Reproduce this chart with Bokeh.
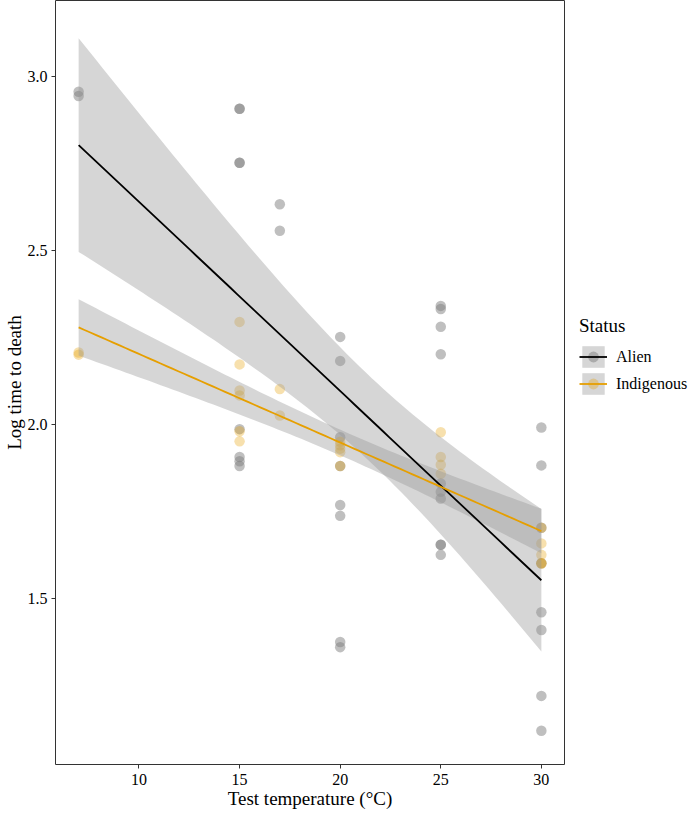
import numpy as np
from math import gamma, sqrt, pi
from bokeh.plotting import figure
from bokeh.layouts import row
from bokeh.models import (Range1d, Legend, LegendItem, FixedTicker, ColumnDataSource,
                          CustomJSTickFormatter)
from bokeh.embed import file_html
from bokeh.resources import INLINE

# ---------------- data ----------------
alien_temp = [7, 7,
              15, 15, 15, 15, 15, 15, 15, 15,
              17, 17,
              20, 20, 20, 20, 20, 20, 20, 20,
              25, 25, 25, 25, 25, 25, 25, 25, 25, 25,
              30, 30, 30, 30, 30, 30, 30, 30]
alien_ltd = [2.955, 2.943,
             2.906, 2.906, 2.751, 2.751, 1.986, 1.906, 1.894, 1.880,
             2.632, 2.556,
             2.251, 2.182, 1.963, 1.880, 1.768, 1.737, 1.375, 1.360,
             2.340, 2.331, 2.280, 2.201, 1.830, 1.806, 1.787, 1.654, 1.654, 1.625,
             1.991, 1.882, 1.703, 1.601, 1.460, 1.409, 1.220, 1.120]

indig_temp = [7, 7,
              15, 15, 15, 15, 15, 15,
              17, 17,
              20, 20, 20, 20, 20,
              25, 25, 25, 25,
              30, 30, 30, 30, 30]
indig_ltd = [2.206, 2.200,
             2.294, 2.172, 2.097, 2.083, 1.980, 1.951,
             2.101, 2.025,
             1.950, 1.940, 1.930, 1.920, 1.880,
             1.977, 1.906, 1.884, 1.858,
             1.703, 1.658, 1.625, 1.601, 1.600]

status_labels = ["Alien", "Indigenous"]
x_ticks = [10, 15, 20, 25, 30]
y_ticks = [1.5, 2.0, 2.5, 3.0]

FONT = "Liberation Serif"


# ---------------- linear fit with 95% CI (like geom_smooth(method="lm")) ----------------
def t_ppf(q, df):
    c = gamma((df + 1) / 2) / (sqrt(df * pi) * gamma(df / 2))

    def cdf(t):
        xs = np.linspace(0, t, 4001)
        pdf = c * (1 + xs ** 2 / df) ** (-(df + 1) / 2)
        return 0.5 + np.trapezoid(pdf, xs)

    lo, hi = 0.0, 10.0
    for _ in range(60):
        mid = (lo + hi) / 2
        if cdf(mid) < q:
            lo = mid
        else:
            hi = mid
    return (lo + hi) / 2


def lm_band(xv, yv, n=80):
    x = np.asarray(xv, float)
    y = np.asarray(yv, float)
    N = len(x)
    xb, yb = x.mean(), y.mean()
    sxx = ((x - xb) ** 2).sum()
    b = ((x - xb) * (y - yb)).sum() / sxx
    a = yb - b * xb
    res = y - (a + b * x)
    s = sqrt((res ** 2).sum() / (N - 2))
    tq = t_ppf(0.975, N - 2)
    gx = np.linspace(x.min(), x.max(), n)
    fit = a + b * gx
    hw = tq * s * np.sqrt(1 / N + (gx - xb) ** 2 / sxx)
    return gx, fit, fit - hw, fit + hw


FW, FH = 509, 764
p = figure(frame_width=FW, frame_height=FH,
           x_range=Range1d(5.85, 31.15), y_range=Range1d(1.023, 3.217),
           output_backend="svg", toolbar_location=None,
           min_border_top=0, min_border_left=0, min_border_bottom=0, min_border_right=1)

p.background_fill_color = "white"
p.border_fill_color = "white"
p.outline_line_color = "#333333"
p.outline_line_width = 1
p.xgrid.visible = False
p.ygrid.visible = False

groups = [
    (alien_temp, alien_ltd, "#7f7f7f", 0.5, "black"),
    (indig_temp, indig_ltd, "#E69F00", 0.32, "#E69F00"),
]

for xv, yv, col, al, lc in groups:
    src = ColumnDataSource(dict(x=xv, y=yv))
    p.scatter("x", "y", source=src, size=10.5, fill_color=col, fill_alpha=al,
              line_color=None)

bands = []
for xv, yv, col, al, lc in groups:
    gx, fit, lo, hi = lm_band(xv, yv)
    bsrc = ColumnDataSource(dict(x=gx, lo=lo, hi=hi, fit=fit))
    b = p.varea(x="x", y1="lo", y2="hi", source=bsrc, fill_color="#999999", fill_alpha=0.4)
    bands.append(b)

for (xv, yv, col, al, lc), b in zip(groups, bands):
    p.line(x="x", y="fit", source=b.data_source, line_color=lc, line_width=1.8)

# axes
for ax in (p.xaxis[0], p.yaxis[0]):
    ax.axis_line_color = None
    ax.major_tick_line_color = "#333333"
    ax.major_tick_in = 0
    ax.major_tick_out = 4
    ax.minor_tick_line_color = None
    ax.major_label_text_font = FONT
    ax.major_label_text_font_size = "16px"
    ax.major_label_text_color = "black"
    ax.axis_label_text_font = FONT
    ax.axis_label_text_font_size = "19px"
    ax.axis_label_text_font_style = "normal"
    ax.axis_label_text_color = "black"
    ax.axis_label_standoff = 0
p.xaxis.major_label_standoff = 5
p.yaxis.major_label_standoff = 4

p.xaxis.ticker = FixedTicker(ticks=x_ticks)
p.yaxis.ticker = FixedTicker(ticks=y_ticks)
p.yaxis.formatter = CustomJSTickFormatter(code="return tick.toFixed(1);")
p.xaxis.axis_label = "Test temperature (°C)"
p.yaxis.axis_label = "Log time to death"

# ---------------- legend (separate panel to the right) ----------------
LW = 124
lg = figure(width=LW, height=FH, output_backend="svg", toolbar_location=None,
            x_range=Range1d(0, 1), y_range=Range1d(0, 1),
            min_border_top=0, min_border_left=0, min_border_bottom=0, min_border_right=0)
lg.axis.visible = False
lg.grid.visible = False
lg.outline_line_color = None
lg.background_fill_color = "white"
lg.border_fill_color = "white"

# legend-key renderers: one point each, placed outside the visible range
items = []
for (xv, yv, col, al, lc), lab in zip(groups, status_labels):
    kb = lg.varea(x=[-10, -9], y1=[-10, -10], y2=[-9, -9], fill_color="#999999", fill_alpha=0.4)
    ks = lg.scatter(x=[-10], y=[-10], size=10.5, fill_color=col, fill_alpha=al, line_color=None)
    kl = lg.line(x=[-10, -9], y=[-10, -10], line_color=lc, line_width=1.8)
    items.append(LegendItem(label=lab, renderers=[kb, ks, kl]))

legend = Legend(items=items, title="Status", location=(14, 320))
legend.title_text_font = FONT
legend.title_text_font_size = "19px"
legend.title_text_font_style = "normal"
legend.title_text_color = "black"
legend.title_standoff = 6
legend.label_text_font = FONT
legend.label_text_font_size = "16px"
legend.label_text_color = "black"
legend.glyph_width = 28
legend.glyph_height = 27
legend.label_height = 27
legend.label_standoff = 9
legend.spacing = 0
legend.padding = 0
legend.margin = 0
legend.border_line_color = None
legend.background_fill_alpha = 0
lg.add_layout(legend, "center")

layout = row(p, lg, spacing=0)
open("out.html", "w").write(file_html(layout, INLINE))
